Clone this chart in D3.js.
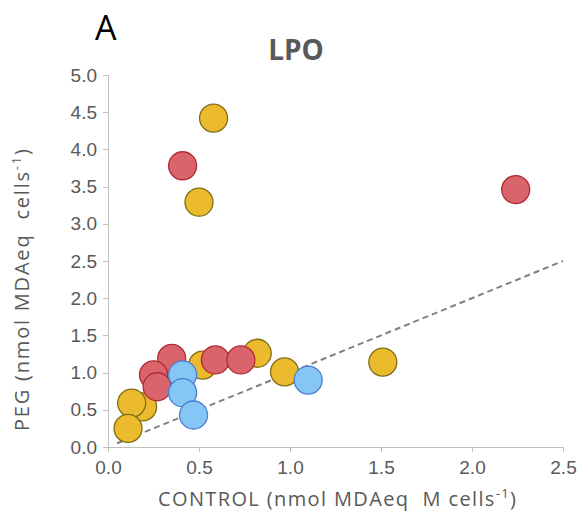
<!DOCTYPE html>
<meta charset="utf-8">
<html>
<head>
<style>
  body { margin: 0; background: #fff; }
  svg { font-family: "Open Sans", "Noto Sans", sans-serif; }
  .axis path, .axis line { stroke: #bfbfbf; fill: none; shape-rendering: crispEdges; }
  .axis text { fill: #595959; font-size: 19px; }
  .axisText { fill: #595959; font-size: 20px; }
</style>
</head>
<body>
<script src="https://d3js.org/d3.v7.min.js"></script>
<script>
// values
var xTicks = [0, 0.5, 1.0, 1.5, 2.0, 2.5];
var yTicks = [0, 0.5, 1.0, 1.5, 2.0, 2.5, 3.0, 3.5, 4.0, 4.5, 5.0];

var yellowX = [0.58, 0.50, 1.51, 0.97, 0.82, 0.52, 0.19, 0.13, 0.11];
var yellowY = [4.42, 3.29, 1.14, 1.01, 1.26, 1.10, 0.54, 0.59, 0.25];

var redX = [0.41, 2.24, 0.35, 0.59, 0.73, 0.25, 0.27];
var redY = [3.78, 3.46, 1.19, 1.17, 1.17, 0.97, 0.81];

var blueX = [1.10, 0.41, 0.41, 0.47];
var blueY = [0.90, 0.97, 0.73, 0.43];

var series = [
  { name: "yellow", xs: yellowX, ys: yellowY, fill: "#ebbb2d", stroke: "#7f6d14" },
  { name: "red", xs: redX, ys: redY, fill: "#d9646c", stroke: "#b02a30" },
  { name: "blue", xs: blueX, ys: blueY, fill: "#86c6f6", stroke: "#4a7fcf" }
];

var margin = {top: 75, right: 18, bottom: 76, left: 108},
    width = 563 - margin.left,
    height = 447 - margin.top;

var svg = d3.select("body").append("svg")
    .attr("width", 581)
    .attr("height", 523);

var g = svg.append("g")
    .attr("transform", "translate(" + margin.left + "," + margin.top + ")");

var x = d3.scaleLinear().domain([0, 2.5]).range([0, width]);
var y = d3.scaleLinear().domain([0, 5]).range([height, 0]);

g.append("g")
    .attr("class", "x axis")
    .attr("transform", "translate(0," + height + ")")
    .call(d3.axisBottom(x).tickValues(xTicks).tickFormat(d3.format(".1f")).tickSizeOuter(0).tickSize(5).tickPadding(9));

g.append("g")
    .attr("class", "y axis")
    .call(d3.axisLeft(y).tickValues(yTicks).tickFormat(d3.format(".1f")).tickSizeOuter(0).tickSize(5).tickPadding(6));

// y = x reference line
g.append("line")
    .attr("x1", x(0.05)).attr("y1", y(0.05))
    .attr("x2", x(2.5)).attr("y2", y(2.5))
    .attr("stroke", "#808080")
    .attr("stroke-width", 2)
    .attr("stroke-dasharray", "6,4");

series.forEach(function(s) {
  g.selectAll(".dot-" + s.name)
    .data(s.xs.map(function(v, i) { return [v, s.ys[i]]; }))
    .enter().append("circle")
      .attr("class", "dot-" + s.name)
      .attr("r", 14)
      .attr("cx", function(d) { return x(d[0]); })
      .attr("cy", function(d) { return y(d[1]); })
      .attr("fill", s.fill)
      .attr("stroke", s.stroke)
      .attr("stroke-width", 1.3);
});

svg.append("text")
    .attr("x", 95).attr("y", 40)
    .attr("font-size", "34px")
    .attr("fill", "#000")
    .text("A");

svg.append("text")
    .attr("x", 296).attr("y", 60)
    .attr("text-anchor", "middle")
    .attr("font-size", "28px")
    .attr("font-weight", "bold")
    .attr("fill", "#595959")
    .text("LPO");

var xl = svg.append("text")
    .attr("class", "axisText")
    .attr("x", 337).attr("y", 506)
    .attr("text-anchor", "middle")
    .attr("textLength", 358)
    .attr("lengthAdjust", "spacing");
xl.append("tspan").text("CONTROL (nmol MDAeq\u00a0\u00a0M cells");
xl.append("tspan").attr("dy", -8).attr("font-size", "13px").text("-1");
xl.append("tspan").attr("dy", 8).text(")");

var yl = svg.append("text")
    .attr("class", "axisText")
    .attr("transform", "translate(29,290) rotate(-90)")
    .attr("text-anchor", "middle")
    .attr("textLength", 282)
    .attr("lengthAdjust", "spacing");
yl.append("tspan").text("PEG (nmol MDAeq\u00a0\u00a0cells");
yl.append("tspan").attr("dy", -8).attr("font-size", "13px").text("-1");
yl.append("tspan").attr("dy", 8).text(")");
</script>
</body>
</html>
